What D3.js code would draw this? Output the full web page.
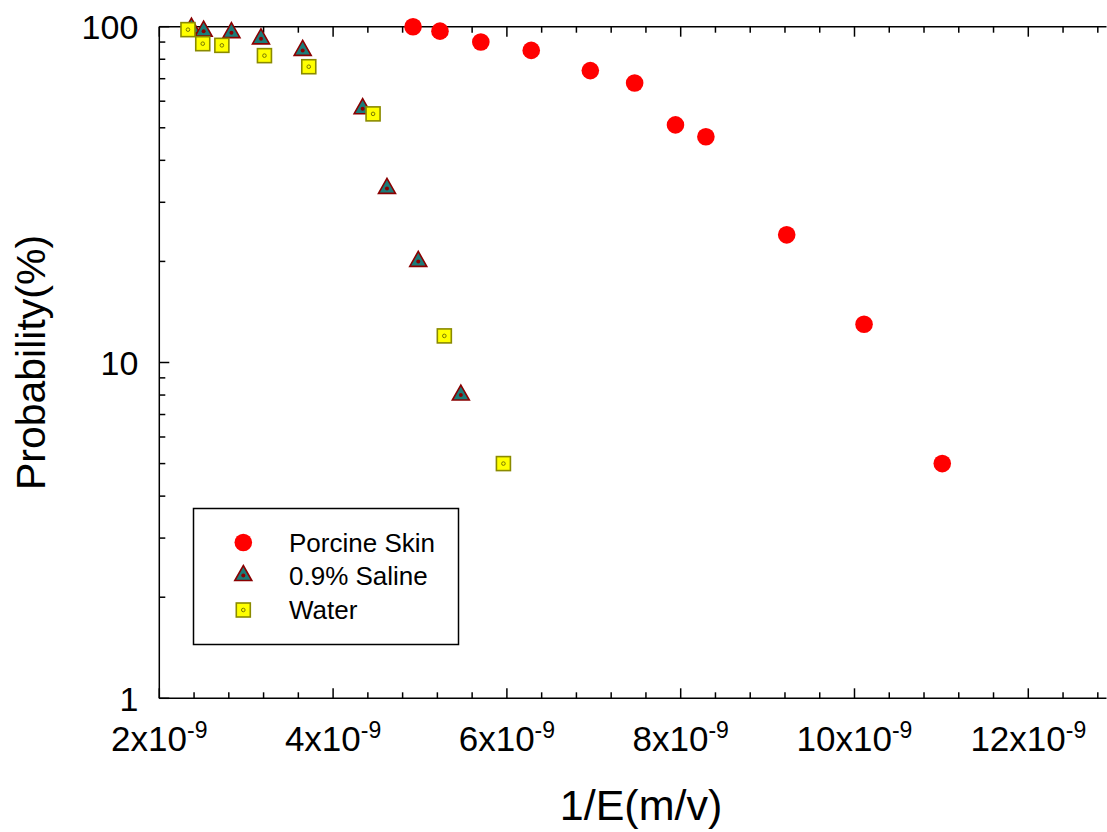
<!DOCTYPE html>
<html>
<head>
<meta charset="utf-8">
<script src="https://cdn.jsdelivr.net/npm/d3@7"></script>
<style>
  html, body { margin: 0; padding: 0; background: #fff; }
  svg { display: block; }
  text { font-family: "Liberation Sans", Arial, sans-serif; fill: #000; }
</style>
</head>
<body>
<svg id="chart" width="1107" height="832"></svg>
<script>
// Inverse field, 1/E (m/V), and breakdown probability (%) per medium
const skinX   = [4.92e-9, 5.23e-9, 5.70e-9, 6.28e-9, 6.96e-9, 7.47e-9, 7.94e-9, 8.29e-9, 9.22e-9, 10.11e-9, 11.01e-9];
const skinY   = [100, 97, 90, 85, 74, 68, 51, 47, 24, 13, 5];

const salineX = [2.37e-9, 2.51e-9, 2.83e-9, 3.17e-9, 3.65e-9, 4.34e-9, 4.62e-9, 4.98e-9, 5.47e-9];
const salineY = [99, 97, 96, 92, 85, 57, 33, 20, 8];

const waterX  = [2.33e-9, 2.50e-9, 2.72e-9, 3.21e-9, 3.72e-9, 4.46e-9, 5.28e-9, 5.96e-9];
const waterY  = [98, 89, 88, 82, 76, 55, 12, 5];

const seriesNames = ["Porcine Skin", "0.9% Saline", "Water"];

const xTickValues = [2e-9, 4e-9, 6e-9, 8e-9, 10e-9, 12e-9];
const xTickMantissa = ["2", "4", "6", "8", "10", "12"];
const xTickExponent = "-9";
const yTickValues = [1, 10, 100];
const yTickLabels = ["1", "10", "100"];

const svg = d3.select("#chart");
const plotL = 159.3, plotR = 1106.5, plotT = 26.7, plotB = 698.3;

const x = d3.scaleLinear().domain([2e-9, 12.9e-9]).range([plotL, plotR]);
const y = d3.scaleLog().domain([1, 100]).range([plotB, plotT]);

// Minor tick positions
const xMinor = d3.range(0, 28).map(i => 2e-9 + i * 0.4e-9)
  .filter(v => v <= 12.9e-9 && !xTickValues.some(t => Math.abs(t - v) < 1e-12));
const yMinor = [2, 3, 4, 5, 6, 7, 8, 9, 20, 30, 40, 50, 60, 70, 80, 90];

const axisG = svg.append("g").attr("stroke", "#000").attr("stroke-width", 1.5).attr("fill", "none");

// Frame lines: left, bottom, top
axisG.append("line").attr("x1", plotL).attr("x2", plotL).attr("y1", plotT).attr("y2", plotB);
axisG.append("line").attr("x1", plotL).attr("x2", plotR).attr("y1", plotB).attr("y2", plotB);
axisG.append("line").attr("x1", plotL).attr("x2", plotR).attr("y1", plotT).attr("y2", plotT);

// Bottom ticks point up, top ticks point down
axisG.append("g").selectAll("line").data(xTickValues).join("line")
  .attr("x1", d => x(d)).attr("x2", d => x(d)).attr("y1", plotB).attr("y2", plotB - 10);
axisG.append("g").selectAll("line").data(xMinor).join("line")
  .attr("x1", d => x(d)).attr("x2", d => x(d)).attr("y1", plotB).attr("y2", plotB - 6);
axisG.append("g").selectAll("line").data(xTickValues).join("line")
  .attr("x1", d => x(d)).attr("x2", d => x(d)).attr("y1", plotT).attr("y2", plotT + 10);
axisG.append("g").selectAll("line").data(xMinor).join("line")
  .attr("x1", d => x(d)).attr("x2", d => x(d)).attr("y1", plotT).attr("y2", plotT + 6);

// Left ticks point right
axisG.append("g").selectAll("line").data(yTickValues).join("line")
  .attr("x1", plotL).attr("x2", plotL + 10).attr("y1", d => y(d)).attr("y2", d => y(d));
axisG.append("g").selectAll("line").data(yMinor).join("line")
  .attr("x1", plotL).attr("x2", plotL + 6).attr("y1", d => y(d)).attr("y2", d => y(d));

// Tick labels
const xl = svg.append("g").selectAll("text").data(xTickValues).join("text")
  .attr("x", d => x(d)).attr("y", plotB + 53)
  .attr("text-anchor", "middle").attr("font-size", 35);
xl.append("tspan").text((d, i) => xTickMantissa[i] + "x10");
xl.append("tspan").attr("font-size", 23).attr("dy", -13).text(xTickExponent);

svg.append("g").selectAll("text").data(yTickValues).join("text")
  .attr("x", plotL - 21).attr("y", d => y(d)).attr("dy", "0.36em")
  .attr("text-anchor", "end").attr("font-size", 34)
  .text((d, i) => yTickLabels[i]);

// Axis titles
svg.append("text").attr("x", 641).attr("y", 820).attr("text-anchor", "middle")
  .attr("font-size", 43).text("1/E(m/v)");
svg.append("text").attr("transform", `translate(45,${(plotT + plotB) / 2}) rotate(-90)`)
  .attr("text-anchor", "middle").attr("font-size", 41).text("Probability(%)");

// Marker painters
function drawCircle(g, cx, cy) {
  g.append("circle").attr("cx", cx).attr("cy", cy).attr("r", 8.8).attr("fill", "#ff0000");
}
function drawTriangle(g, cx, cy) {
  g.append("path")
    .attr("d", `M${cx},${cy - 10}L${cx + 8.5},${cy + 5}L${cx - 8.5},${cy + 5}Z`)
    .attr("fill", "#1a7c79").attr("stroke", "#8b0000").attr("stroke-width", 1.6)
    .attr("stroke-linejoin", "miter");
  g.append("circle").attr("cx", cx).attr("cy", cy).attr("r", 2).attr("fill", "#8b0000");
}
function drawSquare(g, cx, cy) {
  g.append("rect").attr("x", cx - 7).attr("y", cy - 7).attr("width", 14).attr("height", 14)
    .attr("fill", "#ffff00").attr("stroke", "#8a8a00").attr("stroke-width", 1.6);
  g.append("circle").attr("cx", cx).attr("cy", cy).attr("r", 1.8)
    .attr("fill", "none").attr("stroke", "#7a7a00").attr("stroke-width", 1);
}

const marks = svg.append("g");
skinX.forEach((v, i) => drawCircle(marks, x(v), y(skinY[i])));
salineX.forEach((v, i) => drawTriangle(marks, x(v), y(salineY[i])));
waterX.forEach((v, i) => drawSquare(marks, x(v), y(waterY[i])));

// Legend
const lg = svg.append("g");
lg.append("rect").attr("x", 193.5).attr("y", 508.5).attr("width", 265).attr("height", 136)
  .attr("fill", "#fff").attr("stroke", "#000").attr("stroke-width", 1.5);
const painters = [drawCircle, drawTriangle, drawSquare];
const legendRows = [542.5, 575.5, 610];
seriesNames.forEach((name, i) => {
  painters[i](lg, 243.3, legendRows[i]);
  lg.append("text").attr("x", 289).attr("y", legendRows[i]).attr("dy", "0.36em")
    .attr("font-size", 26).text(name);
});
</script>
</body>
</html>
